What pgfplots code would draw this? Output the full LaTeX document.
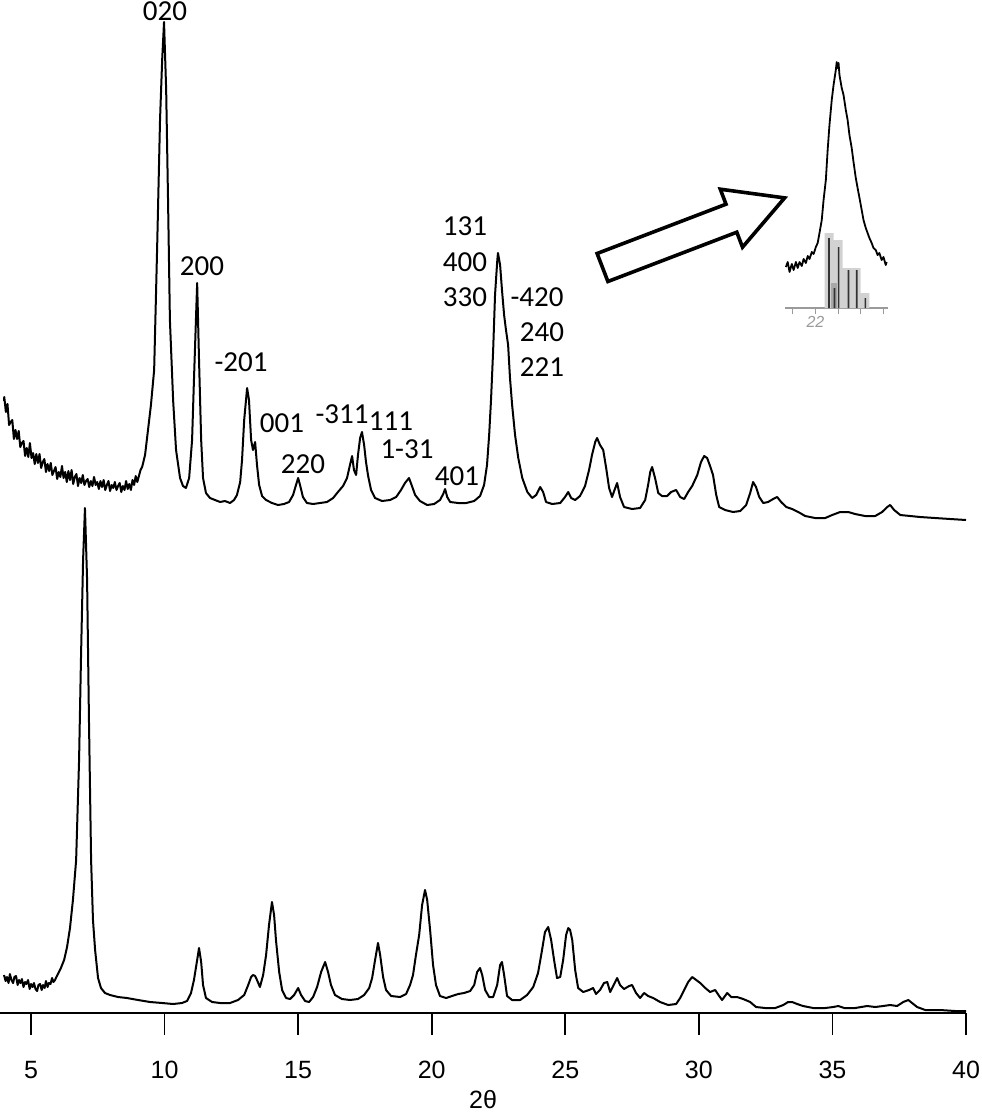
\documentclass[border=0pt]{standalone}
\usepackage{fontspec}
\setmainfont{Carlito}
\newfontfamily\arial{Liberation Sans}
\usepackage{pgfplots}
\pgfplotsset{compat=1.18}
\definecolor{barfill}{HTML}{D2D2D2}
\definecolor{insetax}{HTML}{9A9A9A}
\begin{document}
\begin{tikzpicture}
% main axis: two diffractograms, offset vertically
\begin{axis}[name=main, at={(0pt,-506.5pt)}, anchor=south west,
    scale only axis, width=483pt, height=506.5pt,
    xmin=3.84, xmax=40, ymin=0, ymax=1013,
    axis x line*=bottom, hide y axis,
    axis line style={line width=1pt},
    xtick={5,10,...,40}, tick align=outside, major tick length=11pt,
    xtick style={line width=0.8pt, black},
    /pgf/number format/assume math mode=true,
    xticklabel style={font=\arial\fontsize{12.5}{14}\selectfont, anchor=center, yshift=-17.5pt},
    xlabel={2θ}, xlabel style={font=\arial\fontsize{12.5}{14}\selectfont, at={(axis description cs:0.5,0)}, anchor=center, yshift=-43.5pt},
    clip=false]
  % upper pattern
  \addplot[black, line width=1pt, line join=round] coordinates {
    (3.99,612)(4.00,616)(4.06,601)(4.12,609)(4.18,588)(4.24,591)(4.30,593)(4.36,574)(4.42,583)(4.48,574)
    (4.54,582)(4.60,566)(4.66,570)(4.72,572)(4.78,557)(4.84,565)(4.90,556)(4.96,570)(5.02,555)(5.08,560)
    (5.14,549)(5.20,559)(5.26,550)(5.32,559)(5.38,545)(5.44,551)(5.50,554)(5.56,541)(5.62,549)(5.68,542)
    (5.74,550)(5.80,538)(5.86,542)(5.92,546)(5.98,534)(6.04,541)(6.10,536)(6.16,547)(6.22,535)(6.28,541)
    (6.34,531)(6.40,542)(6.46,533)(6.52,543)(6.58,529)(6.64,536)(6.70,539)(6.76,527)(6.82,535)(6.88,530)
    (6.94,538)(7.00,528)(7.06,532)(7.12,534)(7.18,526)(7.24,532)(7.30,527)(7.36,536)(7.42,528)(7.48,531)
    (7.54,524)(7.60,532)(7.66,526)(7.72,533)(7.78,523)(7.84,528)(7.90,532)(7.96,522)(8.02,528)(8.08,525)
    (8.14,531)(8.20,523)(8.26,527)(8.32,530)(8.38,521)(8.44,527)(8.50,523)(8.56,532)(8.62,524)(8.68,529)
    (8.74,523)(8.80,533)(8.86,528)(8.92,537)(8.98,531)(9.04,537)(9.10,543)
    (9.16,546)(9.27,558)(9.38,583)(9.49,608)(9.61,643)
    (9.72,763)(9.83,893)(9.91,953)(9.98,991)(10.06,923)(10.13,813)(10.20,693)(10.32,613)(10.43,563)
    (10.58,535)(10.69,527)(10.80,525)(10.92,535)(11.03,573)(11.10,633)(11.22,730)(11.29,653)(11.37,573)
    (11.44,535)(11.55,520)(11.70,515)(11.89,513)(12.08,511)(12.26,512)(12.45,510)(12.60,513)(12.71,518)
    (12.83,531)(12.90,553)(12.98,593)(13.09,625)(13.16,613)(13.24,573)(13.31,563)(13.39,571)(13.46,548)
    (13.54,528)(13.65,517)(13.80,513)(14.02,510)(14.25,508)(14.47,509)(14.66,511)(14.81,518)(14.92,528)
    (15.00,535)(15.07,528)(15.18,516)(15.33,510)(15.56,509)(15.82,510)(16.08,511)(16.31,515)(16.49,521)
    (16.68,527)(16.83,535)(16.94,548)(17.02,557)(17.09,543)(17.17,538)(17.24,558)(17.32,575)(17.39,581)
    (17.47,568)(17.54,551)(17.62,537)(17.73,523)(17.88,515)(18.14,512)(18.44,513)(18.67,516)(18.85,523)
    (19.00,530)(19.15,535)(19.26,527)(19.38,518)(19.56,512)(19.83,508)(20.09,509)(20.31,513)(20.43,519)
    (20.50,524)(20.58,516)(20.69,511)(20.99,510)(21.29,510)(21.59,512)(21.81,517)(21.96,528)(22.07,548)
    (22.15,578)(22.22,613)(22.30,663)(22.37,718)(22.45,751)(22.48,760)(22.56,748)(22.63,723)(22.71,698)
    (22.78,683)(22.86,668)(22.93,635)(23.01,608)(23.12,578)(23.24,555)(23.39,535)(23.58,521)(23.76,515)
    (23.91,518)(24.06,526)(24.17,521)(24.28,511)(24.51,509)(24.81,510)(24.99,516)(25.11,521)(25.22,515)
    (25.37,513)(25.55,517)(25.74,527)(25.89,543)(26.00,558)(26.12,571)(26.19,575)(26.30,568)(26.42,563)
    (26.53,545)(26.64,525)(26.75,516)(26.87,525)(26.94,530)(27.05,516)(27.20,506)(27.50,504)(27.80,505)
    (27.99,513)(28.10,528)(28.18,541)(28.25,546)(28.36,535)(28.48,520)(28.62,517)(28.81,517)(28.96,521)
    (29.15,523)(29.30,516)(29.45,514)(29.60,521)(29.75,527)(29.94,538)(30.08,551)(30.20,557)(30.31,555)
    (30.42,547)(30.53,538)(30.65,518)(30.76,506)(30.98,503)(31.28,501)(31.55,502)(31.77,508)(31.92,520)
    (32.03,531)(32.14,526)(32.26,516)(32.41,510)(32.59,511)(32.78,514)(32.93,516)(33.08,511)(33.27,506)
    (33.49,504)(33.72,501)(33.98,497)(34.35,495)(34.73,495)(34.99,498)(35.29,501)(35.59,501)(35.85,499)
    (36.22,497)(36.60,497)(36.86,501)(37.05,506)(37.16,508)(37.31,503)(37.54,498)(37.91,497)(38.28,496)
    (38.84,495)(39.41,494)(40.00,493)};
  % lower pattern
  \addplot[black, line width=1pt, line join=round] coordinates {
    (3.99,38)(4.05,32)(4.10,36)(4.16,30)(4.21,39)(4.27,33)(4.33,30)(4.38,36)(4.44,37)(4.50,28)
    (4.55,33)(4.61,30)(4.66,34)(4.72,26)(4.78,31)(4.83,29)(4.89,33)(4.95,24)(5.00,29)(5.06,26)
    (5.11,30)(5.17,24)(5.23,22)(5.28,28)(5.34,29)(5.40,23)(5.45,28)(5.51,25)(5.56,32)(5.62,26)
    (5.67,30)(5.73,29)(5.79,35)(5.84,31)(5.90,33)(5.95,36)(6.01,39)(6.12,45)
    (6.24,53)(6.35,66)(6.46,85)(6.57,113)(6.69,153)(6.80,253)(6.87,353)(6.95,453)(7.02,505)(7.10,433)
    (7.17,293)(7.25,153)(7.32,93)(7.40,63)(7.51,35)(7.62,25)(7.77,20)(7.96,18)(8.26,16)(8.59,15)
    (9.01,13)(9.46,11)(9.91,10)(10.32,9)(10.65,10)(10.84,12)(10.99,20)(11.10,33)(11.22,53)(11.29,65)
    (11.37,51)(11.44,28)(11.55,15)(11.78,11)(12.08,10)(12.45,10)(12.75,13)(12.98,18)(13.13,28)(13.24,36)
    (13.31,38)(13.39,37)(13.46,33)(13.57,26)(13.69,38)(13.80,58)(13.91,88)(14.02,111)(14.10,98)(14.17,73)
    (14.29,41)(14.40,23)(14.55,15)(14.70,14)(14.85,18)(15.00,25)(15.11,18)(15.26,12)(15.41,11)(15.56,16)
    (15.71,26)(15.86,41)(16.01,51)(16.12,41)(16.23,28)(16.38,18)(16.64,14)(16.94,13)(17.24,14)(17.47,18)
    (17.66,25)(17.77,35)(17.88,53)(17.99,70)(18.07,58)(18.18,36)(18.29,23)(18.48,17)(18.82,16)(19.04,19)
    (19.19,28)(19.30,38)(19.41,58)(19.53,78)(19.64,108)(19.75,123)(19.83,113)(19.94,83)(20.05,48)(20.16,28)
    (20.31,17)(20.54,15)(20.76,17)(20.99,19)(21.21,20)(21.44,22)(21.59,28)(21.70,41)(21.81,45)(21.89,38)
    (22.00,23)(22.15,16)(22.30,16)(22.45,28)(22.56,48)(22.63,51)(22.71,38)(22.82,17)(23.01,13)(23.31,13)
    (23.57,18)(23.80,26)(23.98,40)(24.13,63)(24.24,81)(24.36,86)(24.47,73)(24.58,53)(24.69,35)(24.81,36)
    (24.92,53)(25.03,78)(25.11,85)(25.18,83)(25.26,73)(25.37,43)(25.48,25)(25.67,21)(25.89,23)(26.04,25)
    (26.15,19)(26.30,23)(26.45,30)(26.57,31)(26.68,21)(26.83,29)(26.94,35)(27.05,28)(27.20,24)(27.39,27)
    (27.50,28)(27.65,20)(27.80,15)(27.95,20)(28.10,17)(28.29,15)(28.55,11)(28.85,8)(29.15,9)(29.30,15)
    (29.45,23)(29.60,31)(29.75,36)(29.90,33)(30.05,30)(30.24,25)(30.42,21)(30.61,23)(30.76,17)(30.87,13)
    (31.06,20)(31.21,16)(31.43,16)(31.66,14)(31.92,11)(32.14,6)(32.48,5)(32.86,5)(33.16,8)(33.34,11)
    (33.49,11)(33.68,9)(33.90,7)(34.28,5)(34.73,5)(35.03,6)(35.22,7)(35.44,5)(35.85,5)(36.30,7)
    (36.60,6)(36.90,7)(37.16,8)(37.42,7)(37.65,11)(37.84,13)(37.98,10)(38.17,6)(38.47,3)(39.03,3)
    (39.59,2)(40.00,2)};
\end{axis}

% inset: zoom of the 22.5 degree reflection with calculated positions
\begin{axis}[name=inset, at={(392.5pt,-154pt)}, anchor=south west,
    scale only axis, width=51.5pt, height=126.5pt,
    xmin=21.33, xmax=23.6, ymin=0, ymax=253,
    axis x line*=bottom, hide y axis,
    axis line style={insetax, line width=0.6pt},
    xtick={21.5,22,22.5,23,23.5}, xticklabels={,22,,,},
    tick align=outside, major tick length=3pt,
    xtick style={insetax, line width=0.5pt},
    xticklabel style={font=\arial\itshape\fontsize{8}{9}\selectfont, text=insetax, inner sep=1pt},
    clip=false]
  \addplot[ybar, bar width=4.5pt, fill=barfill, draw=none] coordinates {
    (22.30,75)(22.50,68)(22.70,40)(22.90,40)(23.09,15)};
  \addplot[ybar, bar width=3pt, fill=barfill!80!black, draw=none] coordinates {(22.40,25)};
  \addplot[ybar, bar width=0.8pt, fill=black!80, draw=none] coordinates {
    (22.30,70)(22.42,20)(22.51,61)(22.73,38)(22.91,38)(23.10,10)};
  \addplot[black, line width=0.9pt, line join=round] coordinates {
    (21.35,41)(21.39,46)(21.43,36)(21.48,44)(21.52,38)(21.57,46)(21.61,40)(21.65,46)(21.70,42)(21.74,49)
    (21.79,45)(21.83,52)(21.87,49)(21.92,56)(21.96,54)(22.01,61)(22.05,65)(22.09,75)(22.14,88)(22.18,108)
    (22.23,128)(22.27,158)(22.31,183)(22.36,208)(22.40,223)(22.45,238)(22.47,246)(22.49,240)(22.51,245)(22.53,233)
    (22.58,220)(22.62,213)(22.67,198)(22.71,188)(22.75,173)(22.80,160)(22.84,146)(22.89,130)(22.93,120)(22.98,108)
    (23.02,98)(23.06,88)(23.11,80)(23.15,75)(23.19,70)(23.24,65)(23.28,60)(23.33,58)(23.37,53)(23.41,55)
    (23.46,48)(23.50,51)(23.55,43)(23.57,46)};
\end{axis}

\begin{scope}[x=0.5pt, y=-0.5pt]
% open block arrow pointing to the inset
\draw[line width=1.8pt, line join=miter, fill=white]
  (597.1,253.5) -- (726.0,204.2) -- (720.3,189.2) -- (784.6,197.9)
  -- (742.5,247.2) -- (736.8,232.2) -- (607.9,281.5) -- cycle;

% Miller indices
\begin{scope}[every node/.style={font=\fontsize{14.5}{17}\selectfont, inner sep=0pt, anchor=center}]
  \node at (165,11) {020};
  \node at (202,266) {200};
  \node at (241,362) {-201};
  \node at (282,423) {001};
  \node at (303,464) {220};
  \node at (342,414) {-311};
  \node at (391,421) {111};
  \node at (407,449) {1-31};
  \node at (457,476) {401};
  \node at (465,226) {131};
  \node at (465,262) {400};
  \node at (465,297) {330};
  \node at (537,297) {-420};
  \node at (542,332) {240};
  \node at (542,367) {221};
\end{scope}
\end{scope}

\pgfresetboundingbox
\path (0pt,0pt) rectangle (490.5pt,-556.5pt);
\end{tikzpicture}
\end{document}
